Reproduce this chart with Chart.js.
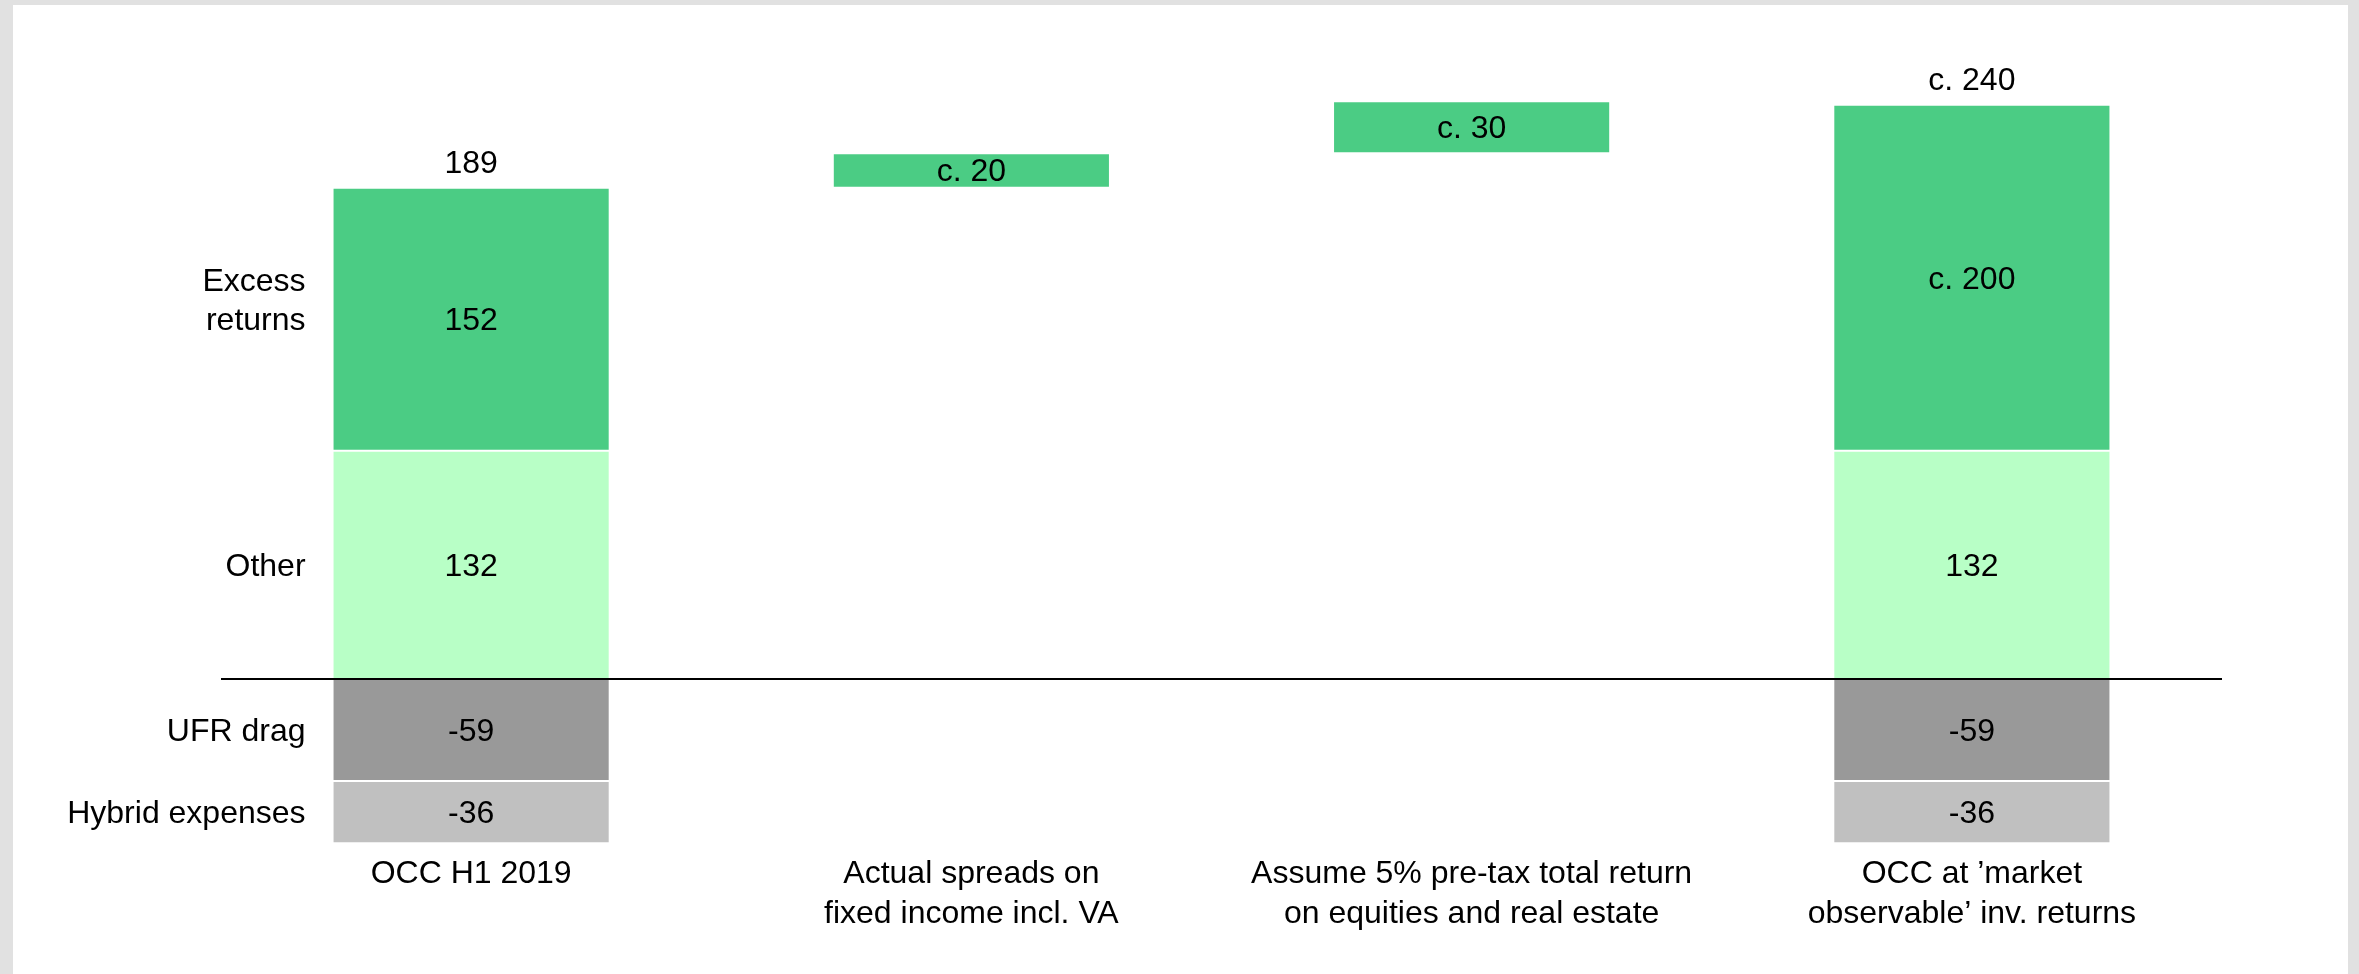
<!DOCTYPE html>
<html>
<head>
<meta charset="utf-8">
<title>OCC bridge</title>
<script src="https://cdn.jsdelivr.net/npm/chart.js@4.4.1/dist/chart.umd.min.js"></script>
<style>
	html, body { margin: 0; padding: 0; }
	body { background: #e1e1e1; width: 2359px; height: 974px; overflow: hidden; position: relative; }
	#panel { position: absolute; left: 13px; top: 5px; width: 2335px; height: 969px; background: #fff; }
</style>
</head>
<body>
<div id="panel"><canvas id="chart"></canvas></div>
<script>
const categories = [
	["OCC H1 2019"],
	["Actual spreads on", "fixed income incl. VA"],
	["Assume 5% pre-tax total return", "on equities and real estate"],
	["OCC at \u2019market", "observable\u2019 inv. returns"],
]

// segments of the two full columns (null where a column has no such segment)
const other = [132, null, null, 132]
const excess = [152, null, null, 200]
const ufrDrag = [-59, null, null, -59]
const hybrid = [-36, null, null, -36]

// steps between the columns
const bridge = [null, 20, 30, null]

const excessLabels = ["152", null, null, "c. 200"]
const bridgeLabels = [null, "c. 20", "c. 30", null]
const totalLabels = ["189", null, null, "c. 240"]

const colors = {
	excess: "#4bcc84",
	other: "#b8ffc6",
	ufr: "#999999",
	hybrid: "#c0c0c0",
}

const FONT = '32px "Liberation Sans", Arial, sans-serif'

const fmt = v => (v == null ? null : String(v))

// turn segment values into [start, end] ranges for floating bars
const otherRange = other.map(v => (v == null ? null : [0, v]))
const excessRange = excess.map((v, i) => (v == null ? null : [other[i], other[i] + v]))
const ufrRange = ufrDrag.map(v => (v == null ? null : [v, 0]))
const hybridRange = hybrid.map((v, i) => (v == null ? null : [ufrDrag[i] + v, ufrDrag[i]]))

let running = other[0] + excess[0]
const bridgeRange = bridge.map(v => {
	if (v == null) return null
	const r = [running, running + v]
	running += v
	return r
})

function barSet(label, data, color, texts, rowLabel, extra) {
	return Object.assign({
		label: label,
		data: data,
		backgroundColor: color,
		borderColor: "#ffffff",
		borderWidth: 1,
		borderSkipped: false,
		grouped: false,
		categoryPercentage: 1,
		barPercentage: 0.554,
		segmentLabels: texts,
		rowLabel: rowLabel,
	}, extra || {})
}

const labelPlugin = {
	id: "segmentLabels",
	afterDatasetsDraw(chart) {
		const ctx = chart.ctx
		const area = chart.chartArea
		const y0 = Math.round(chart.scales.y.getPixelForValue(0))

		ctx.save()
		ctx.strokeStyle = "#000"
		ctx.lineWidth = 2
		ctx.beginPath()
		ctx.moveTo(area.left, y0)
		ctx.lineTo(area.right, y0)
		ctx.stroke()

		ctx.font = FONT
		ctx.fillStyle = "#000"
		ctx.textBaseline = "middle"

		chart.data.datasets.forEach((ds, di) => {
			const meta = chart.getDatasetMeta(di)
			meta.data.forEach((bar, i) => {
				if (ds.data[i] == null) return
				const mid = (bar.y + bar.base) / 2
				if (ds.segmentLabels && ds.segmentLabels[i]) {
					ctx.textAlign = "center"
					ctx.fillText(ds.segmentLabels[i], bar.x, mid + 2)
				}
				// row names sit left of the first column, last line on the segment middle
				if (i == 0 && ds.rowLabel) {
					ctx.textAlign = "right"
					const n = ds.rowLabel.length
					ds.rowLabel.forEach((line, k) => {
						ctx.fillText(line, bar.x - bar.width / 2 - 27, mid + 2 - (n - 1 - k) * 39)
					})
				}
				if (ds.totals && ds.totals[i]) {
					ctx.textAlign = "center"
					ctx.fillText(ds.totals[i], bar.x, Math.min(bar.y, bar.base) - 24)
				}
			})
		})
		ctx.restore()
	},
}

Chart.defaults.font.family = '"Liberation Sans", Arial, sans-serif'
Chart.defaults.color = "#000"

const chart = new Chart(document.getElementById("chart"), {
	type: "bar",
	data: {
		labels: categories,
		datasets: [
			barSet("Other", otherRange, colors.other, other.map(fmt), ["Other"]),
			barSet("Excess returns", excessRange, colors.excess, excessLabels, ["Excess", "returns"], { totals: totalLabels }),
			barSet("UFR drag", ufrRange, colors.ufr, ufrDrag.map(fmt), ["UFR drag"]),
			barSet("Hybrid expenses", hybridRange, colors.hybrid, hybrid.map(fmt), ["Hybrid expenses"]),
			barSet("Bridge", bridgeRange, colors.excess, bridgeLabels, null),
		],
	},
	options: {
		responsive: true,
		maintainAspectRatio: false,
		animation: false,
		layout: { padding: { left: 208, right: 126, top: 34, bottom: 0 } },
		plugins: {
			legend: { display: false },
			tooltip: { enabled: false },
		},
		scales: {
			x: {
				grid: { display: false, drawTicks: false },
				border: { display: false },
				ticks: {
					color: "#000",
					font: { size: 32, lineHeight: 1.25 },
					padding: 2,
					maxRotation: 0,
					autoSkip: false,
				},
				afterFit: scale => { scale.height = 122 },
			},
			y: { display: false, min: -100, max: 370 },
		},
	},
	plugins: [labelPlugin],
})
</script>
</body>
</html>
